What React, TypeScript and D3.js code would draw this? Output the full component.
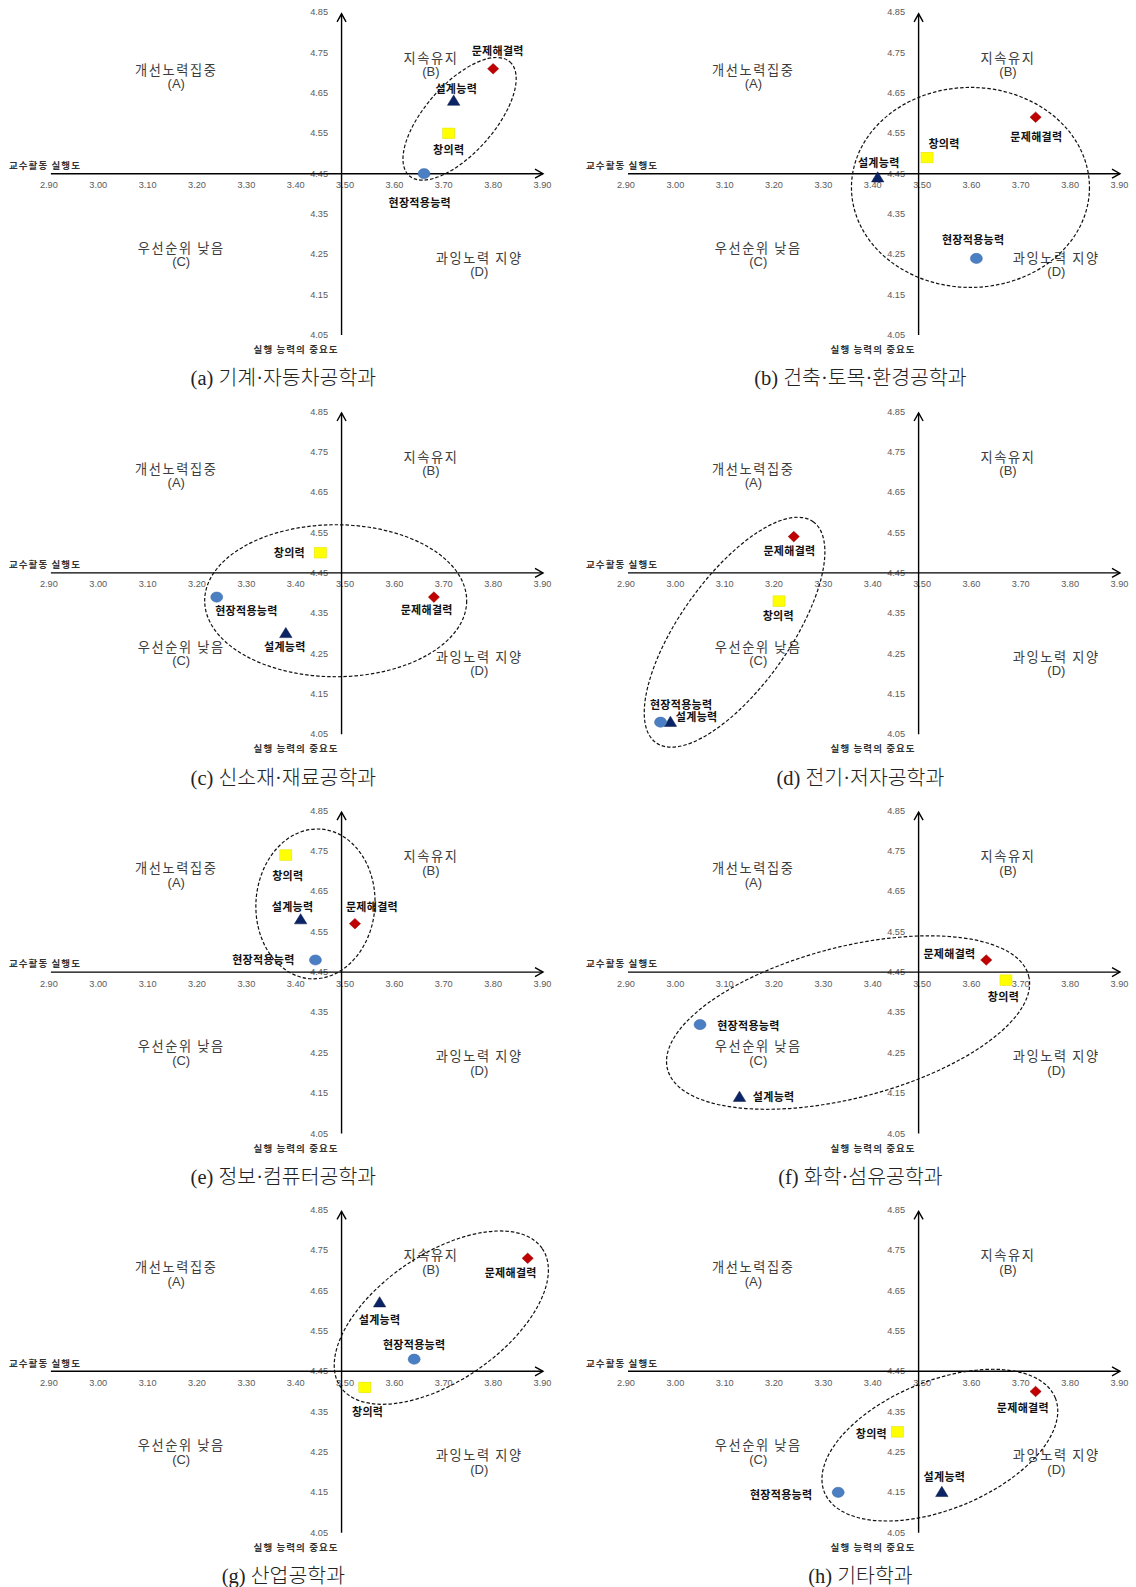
import React from "react";
import * as d3 from "d3";

const W = 1136;
const H = 1587;

const departments = [
  "(a) 기계·자동차공학과",
  "(b) 건축·토목·환경공학과",
  "(c) 신소재·재료공학과",
  "(d) 전기·저자공학과",
  "(e) 정보·컴퓨터공학과",
  "(f) 화학·섬유공학과",
  "(g) 산업공학과",
  "(h) 기타학과",
];

const competencies = ["문제해결력", "설계능력", "창의력", "현장적용능력"];

const xTickValues = [2.9, 3.0, 3.1, 3.2, 3.3, 3.4, 3.5, 3.6, 3.7, 3.8, 3.9];
const yTickValues = [4.85, 4.75, 4.65, 4.55, 4.45, 4.35, 4.25, 4.15, 4.05];

// 교수활동 실행도 (horizontal) / 실행 능력의 중요도 (vertical), per department a..h
const problemSolvingX = [3.80, 3.73, 3.68, 3.24, 3.52, 3.63, 3.87, 3.73];
const problemSolvingY = [4.71, 4.59, 4.39, 4.54, 4.57, 4.48, 4.73, 4.40];
const designX = [3.72, 3.41, 3.38, 2.99, 3.41, 3.13, 3.57, 3.54];
const designY = [4.63, 4.44, 4.30, 4.08, 4.58, 4.14, 4.62, 4.15];
const creativityX = [3.71, 3.51, 3.45, 3.21, 3.38, 3.67, 3.54, 3.45];
const creativityY = [4.55, 4.49, 4.50, 4.38, 4.74, 4.43, 4.41, 4.30];
const fieldX = [3.66, 3.61, 3.24, 2.97, 3.44, 3.05, 3.64, 3.33];
const fieldY = [4.45, 4.24, 4.39, 4.08, 4.48, 4.32, 4.48, 4.15];

const quadrantNames = ["개선노력집중", "지속유지", "우선순위 낮음", "과잉노력 지양"];
const quadrantCodes = ["(A)", "(B)", "(C)", "(D)"];
const xAxisTitle = "교수활동 실행도";
const yAxisTitle = "실행 능력의 중요도";

// ---- layout (not data) ----
const colX0 = [48.9, 626];
const colX1 = [542.5, 1119.5];
const rowTop0 = 12.3;
const rowStep = 399.2;
const plotH = 322.8;

const quadrantAnchorX = [3.158, 3.674, 3.168, 3.772];
const quadrantDy = [-104.5, -116.5, 73.5, 83.5];

// annotation ellipses: centre in data units, radii / rotation in px / deg
const ellCx = [3.732, 3.598, 3.481, 3.12, 3.44, 3.35, 3.695, 3.536];
const ellCy = [4.586, 4.416, 4.381, 4.303, 4.619, 4.325, 4.583, 4.267];
const ellRx = [76, 119, 131, 135.6, 59.5, 186.5, 122.3, 124.7];
const ellRy = [34.5, 100, 76, 54.7, 75, 75.5, 63.4, 64.1];
const ellRot = [-48.5, 0, 0, -54.6, 4, -14.5, -34.4, -22.3];

// label offsets [dx, dy] in px per panel, order = competencies
const labelOffsets: number[][][] = [
  [[4.6, -19], [2.6, -13], [0, 16], [-4.3, 28]],
  [[0.8, 19], [1.1, -16], [17, -15], [-3.2, -19]],
  [[-7.2, 12], [-1, 13], [-31, -1], [29.7, 13]],
  [[-4.3, 13], [26.3, -6], [-0.7, 14], [20.6, -18.5]],
  [[17, -18], [-8, -14], [2, 20], [-52, -1]],
  [[-36.8, -7], [34.2, -1], [-2.5, 16], [48.4, 0]],
  [[-17, 14], [0, 16], [2.8, 24], [0, -15]],
  [[-12.7, 16], [2.6, -16], [-26, 1], [-57, 2]],
];

const seriesX = [problemSolvingX, designX, creativityX, fieldX];
const seriesY = [problemSolvingY, designY, creativityY, fieldY];

const markerColors = ["#c00000", "#0b2466", "#ffff00", "#4a7fc4"];

const KR = "'Noto Sans CJK KR', 'Noto Sans', sans-serif";
const LAT = "'Liberation Sans', Arial, sans-serif";

function Marker({ kind, cx, cy }: { kind: number; cx: number; cy: number }) {
  const t = `translate(${cx},${cy})`;
  if (kind === 0)
    return <path d="M0,-5.3L5.6,0L0,5.3L-5.6,0Z" transform={t} fill={markerColors[0]} stroke="#900000" strokeWidth={0.5} />;
  if (kind === 1)
    return <path d="M0,-6L6.2,4.2L-6.2,4.2Z" transform={t} fill={markerColors[1]} stroke="#061540" strokeWidth={0.5} />;
  if (kind === 2)
    return <rect x={-6} y={-5.3} width={12} height={10.6} transform={t} fill={markerColors[2]} stroke="#e0e000" strokeWidth={0.5} />;
  return <ellipse cx={cx} cy={cy} rx={6} ry={5.1} fill={markerColors[3]} stroke="#3a66a0" strokeWidth={0.5} />;
}

function Panel({ i }: { i: number }) {
  const c = i % 2;
  const r = Math.floor(i / 2);
  const top = rowTop0 + rowStep * r;
  const x = d3.scaleLinear().domain([2.9, 3.9]).range([colX0[c], colX1[c]]);
  const y = d3.scaleLinear().domain([4.05, 4.85]).range([top + plotH, top]);
  const axisX = x(3.5) - 3.5;
  const axisY = y(4.45);
  const hStart = x(2.9) + 2;
  const hTip = x(3.9) + 0.5;
  const vBottom = y(4.05);
  const vTip = y(4.85) + 1.5;

  const drawOrder = [0, 1, 3, 2];

  return (
    <g>
      {xTickValues.map((v) => (
        <text key={"xt" + v} x={x(v)} y={axisY + 11.5} textAnchor="middle" dominantBaseline="central"
          fontFamily={LAT} fontSize={9.2} fill="#5a5a5a">{v.toFixed(2)}</text>
      ))}
      {yTickValues.map((v) => (
        <text key={"yt" + v} x={axisX - 13.5} y={y(v)} textAnchor="end" dominantBaseline="central"
          fontFamily={LAT} fontSize={9.2} fill="#5a5a5a">{v.toFixed(2)}</text>
      ))}
      {quadrantNames.map((q, k) => (
        <g key={"q" + k}>
          <text x={x(quadrantAnchorX[k])} y={axisY + quadrantDy[k]} textAnchor="middle" dominantBaseline="central"
            fontFamily={KR} fontSize={13.2} fill="#3c3c3c" letterSpacing={1.6}>{q}</text>
          <text x={x(quadrantAnchorX[k])} y={axisY + quadrantDy[k] + 14.5} textAnchor="middle" dominantBaseline="central"
            fontFamily={LAT} fontSize={13} fill="#3c3c3c">{quadrantCodes[k]}</text>
        </g>
      ))}
      <line x1={hStart} x2={hTip} y1={axisY} y2={axisY} stroke="#000" strokeWidth={1.4} />
      <path d={`M${hTip - 8},${axisY - 4.5}L${hTip},${axisY}L${hTip - 8},${axisY + 4.5}`} fill="none" stroke="#000" strokeWidth={1.4} />
      <line x1={axisX} x2={axisX} y1={vBottom} y2={vTip} stroke="#000" strokeWidth={1.4} />
      <path d={`M${axisX - 4.5},${vTip + 8}L${axisX},${vTip}L${axisX + 4.5},${vTip + 8}`} fill="none" stroke="#000" strokeWidth={1.4} />
      <text x={x(2.9) - 40} y={axisY - 8.7} dominantBaseline="central" fontFamily={KR} fontWeight={700}
        fontSize={9.5} fill="#333" textLength={71} lengthAdjust="spacing">{xAxisTitle}</text>
      <text x={axisX - 88} y={vBottom + 14} dominantBaseline="central" fontFamily={KR} fontWeight={700}
        fontSize={9.5} fill="#333" textLength={84} lengthAdjust="spacing">{yAxisTitle}</text>
      <ellipse cx={0} cy={0} rx={ellRx[i]} ry={ellRy[i]}
        transform={`translate(${x(ellCx[i])},${y(ellCy[i])}) rotate(${ellRot[i]})`}
        fill="none" stroke="#111" strokeWidth={1.2} strokeDasharray="3.5,2" />
      {drawOrder.map((k) => (
        <Marker key={"m" + k} kind={k} cx={x(seriesX[k][i])} cy={y(seriesY[k][i])} />
      ))}
      {competencies.map((name, k) => (
        <text key={"l" + k} x={x(seriesX[k][i]) + labelOffsets[i][k][0]} y={y(seriesY[k][i]) + labelOffsets[i][k][1]}
          textAnchor="middle" dominantBaseline="central" fontFamily={KR} fontWeight={700} fontSize={11}
          letterSpacing={0.3} fill="#111">{name}</text>
      ))}
      <text x={x(3.375)} y={top + 366} textAnchor="middle" dominantBaseline="central"
        fontFamily="'Liberation Serif', 'Noto Sans CJK KR', serif" fontWeight={300} fontSize={20.5} fill="#222">{departments[i]}</text>
    </g>
  );
}

export default function App() {
  return (
    <svg width={W} height={H} viewBox={`0 0 ${W} ${H}`} style={{ position: "absolute", left: 0, top: 0, background: "#fff" }}>
      <rect x={0} y={0} width={W} height={H} fill="#fff" />
      {departments.map((_, i) => (
        <Panel key={i} i={i} />
      ))}
    </svg>
  );
}
